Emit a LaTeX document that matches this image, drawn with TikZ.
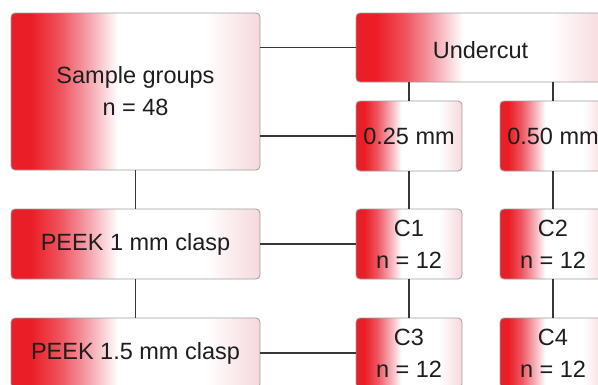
\documentclass[tikz,border=0pt]{standalone}
\usepackage{fontspec}
\setmainfont{Liberation Sans}
\definecolor{fadered}{RGB}{234,30,38}
\definecolor{fademid}{RGB}{238,85,95}
\definecolor{fadelight}{RGB}{245,170,178}
\definecolor{fadepink}{RGB}{246,216,220}
\definecolor{boxline}{RGB}{160,160,160}
\definecolor{connline}{RGB}{55,55,55}
\definecolor{txt}{RGB}{30,30,30}
\pgfdeclarehorizontalshading{redfade}{100bp}{color(0bp)=(fadered); color(25bp)=(fadered); color(29bp)=(fadered); color(35bp)=(fademid); color(41bp)=(fadelight); color(46.5bp)=(white); color(64bp)=(white); color(75bp)=(fadepink); color(100bp)=(fadepink)}
\tikzset{
  gbox/.style={draw=boxline, line width=0.8pt, rounded corners=4pt, shade, shading=redfade,
    inner sep=0pt, align=center, text=txt, font=\fontsize{23.5}{32}\selectfont},
  wide/.style={gbox, minimum width=249pt},
  narrow/.style={gbox, minimum width=106pt},
  conn/.style={draw=connline, line width=1.2pt}
}
\begin{document}
\begin{tikzpicture}[x=1pt,y=-1pt]
\useasboundingbox (0,0) rectangle (598,384);
\clip (0,0) rectangle (598,384);
\fill[white] (0,0) rectangle (598,384);
\node[wide, minimum height=157pt] (sg) at (135.5,91.5) {Sample groups\\n = 48};
\node[wide, minimum height=69pt, text height=23pt] (uc) at (480.5,47.5) {Undercut};
\node[narrow, minimum height=70pt] (a25) at (409,136) {0.25 mm};
\node[narrow, minimum height=70pt] (a50) at (553,136) {0.50 mm};
\node[wide, minimum height=70pt] (p1) at (135.5,244) {PEEK 1 mm clasp};
\node[wide, minimum height=70pt] (p15) at (135.5,353) {PEEK 1.5 mm clasp};
\node[narrow, minimum height=70pt] (c1) at (409,244) {C1\\n = 12};
\node[narrow, minimum height=70pt] (c2) at (553,244) {C2\\n = 12};
\node[narrow, minimum height=70pt] (c3) at (409,353) {C3\\n = 12};
\node[narrow, minimum height=70pt] (c4) at (553,353) {C4\\n = 12};
\draw[conn] (uc.west) -- (uc.west -| sg.east);
\draw[conn] (a25.west) -- (a25.west -| sg.east);
\draw[conn] (sg.south) -- (p1.north);
\draw[conn] (p1.south) -- (p15.north);
\draw[conn] (a25.north) -- (a25.north |- uc.south);
\draw[conn] (a50.north) -- (a50.north |- uc.south);
\draw[conn] (a25.south) -- (c1.north);
\draw[conn] (a50.south) -- (c2.north);
\draw[conn] (c1.south) -- (c3.north);
\draw[conn] (c2.south) -- (c4.north);
\draw[conn] (c1.west) -- (c1.west -| p1.east);
\draw[conn] (c3.west) -- (c3.west -| p15.east);
\end{tikzpicture}
\end{document}
